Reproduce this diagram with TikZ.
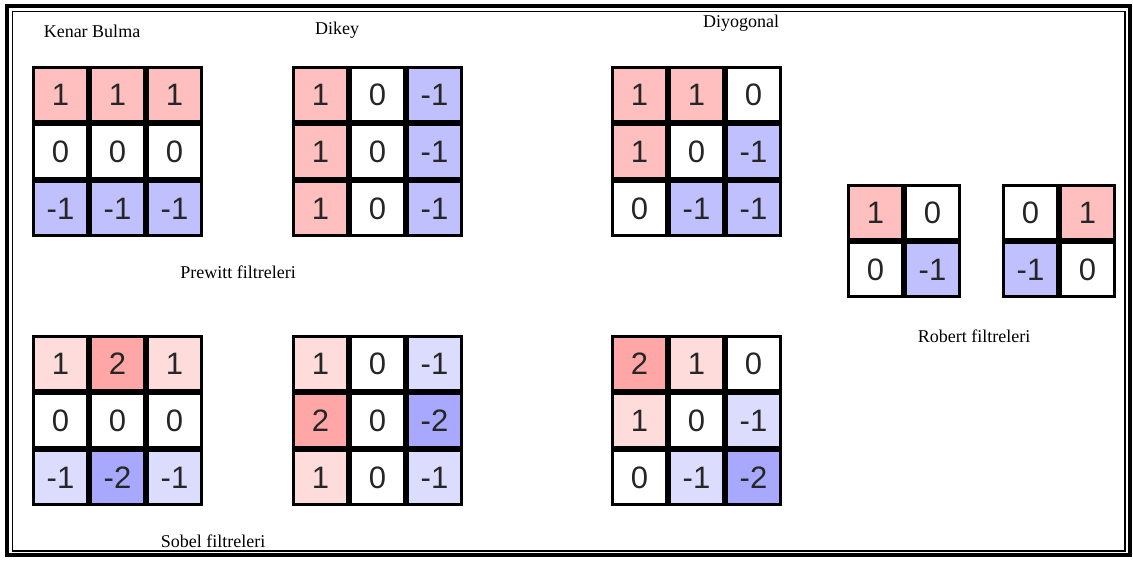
\documentclass[tikz,border=0pt]{standalone}
\usepackage{fontspec}
\setmainfont{Liberation Serif}
\newfontfamily\numfont{Liberation Sans}
\definecolor{pr}{HTML}{FFBFBF}
\definecolor{pb}{HTML}{C0C0FF}
\definecolor{sr}{HTML}{FFDCDC}
\definecolor{srr}{HTML}{FFA6A6}
\definecolor{sb}{HTML}{DCDCFF}
\definecolor{sbb}{HTML}{A8A8FF}
\tikzset{
  cell/.style={draw=black, line width=2.6pt, minimum size=54.4pt, inner sep=0pt,
    font=\numfont\fontsize{31}{31}\selectfont, text=black!85},
  lab/.style={font=\fontsize{18}{18}\selectfont, inner sep=0pt}
}
\newcommand\kgrid[5]{%
  \foreach \v/\c [count=\i from 0] in {#5} {%
    \pgfmathtruncatemacro\col{mod(\i,#4)}%
    \pgfmathtruncatemacro\row{int(\i/#4)}%
    \node[cell, fill=\c] (#1-\row-\col) at ({#2+28.5+57*\col},{#3+28.5+57*\row}) {\v};
  }%
}
\begin{document}
\begin{tikzpicture}[x=1pt,y=-1pt]
\useasboundingbox (0,0) rectangle (1133,563);
\fill[white] (0,0) rectangle (1133,563);
% frame
\draw[line width=4.5pt] (7,6) rectangle (1130,555);
\draw[line width=1.5pt] (12.5,11.5) rectangle (1125,551);
% labels
\node[lab] (tk) at (92,31) {Kenar Bulma};
\node[lab] (td) at (337,30) {Dikey};
\node[lab] (tg) at (741,23) {Diyogonal};
\node[lab] (tp) at (238,272) {Prewitt filtreleri};
\node[lab] (ts) at (213,541) {Sobel filtreleri};
\node[lab] (tr) at (974,336) {Robert filtreleri};
% Prewitt
\kgrid{pk}{32}{66}{3}{1/pr,1/pr,1/pr,0/white,0/white,0/white,-1/pb,-1/pb,-1/pb}
\kgrid{pd}{292}{66}{3}{1/pr,0/white,-1/pb,1/pr,0/white,-1/pb,1/pr,0/white,-1/pb}
\kgrid{pg}{611}{66}{3}{1/pr,1/pr,0/white,1/pr,0/white,-1/pb,0/white,-1/pb,-1/pb}
% Sobel
\kgrid{sk}{32}{335}{3}{1/sr,2/srr,1/sr,0/white,0/white,0/white,-1/sb,-2/sbb,-1/sb}
\kgrid{sd}{292}{335}{3}{1/sr,0/white,-1/sb,2/srr,0/white,-2/sbb,1/sr,0/white,-1/sb}
\kgrid{sg}{611}{335}{3}{2/srr,1/sr,0/white,1/sr,0/white,-1/sb,0/white,-1/sb,-2/sbb}
% Robert
\kgrid{ra}{847}{184}{2}{1/pr,0/white,0/white,-1/pb}
\kgrid{rb}{1002}{184}{2}{0/white,1/pr,-1/pb,0/white}
\end{tikzpicture}
\end{document}
